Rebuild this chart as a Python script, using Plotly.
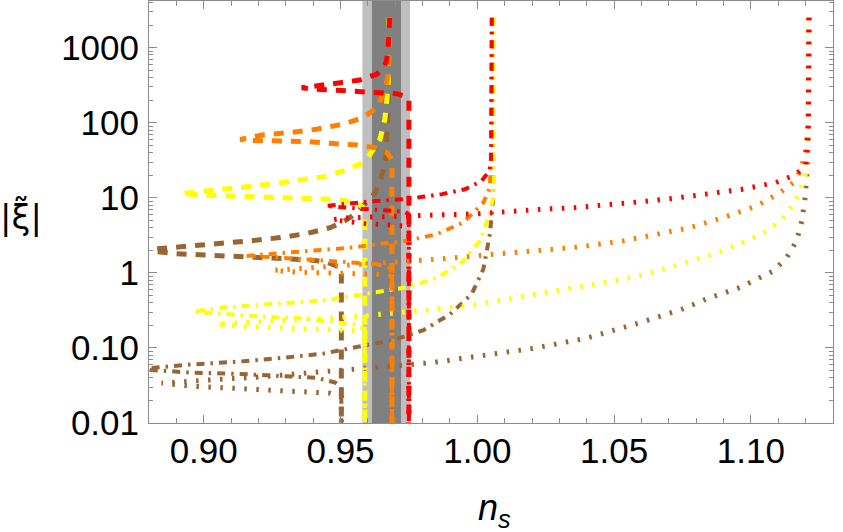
import plotly.graph_objects as go

# ---------------- data ----------------
# Dashed family (upper branch from top -> tip -> lower branch -> down to 0.01)
red_dashed_ns = [0.9680, 0.9678, 0.9674, 0.9668, 0.9655, 0.9632, 0.9600, 0.9571, 0.9500, 0.9430, 0.9390, 0.9358,
                 0.9390, 0.9430, 0.9500, 0.9571, 0.9632, 0.9705, 0.9740, 0.9750, 0.9750]
red_dashed_xi = [2500, 1500, 1000, 665, 520, 443, 400, 371, 342, 318, 303, 292,
                 283, 279, 270, 262, 257, 244, 225, 200, 0.01]

orange_dashed_ns = [0.9680, 0.9677, 0.9675, 0.9662, 0.9634, 0.9600, 0.9577, 0.9510, 0.9449, 0.9413, 0.9315, 0.9218, 0.9133,
                    0.9180, 0.9250, 0.9388, 0.9474, 0.9559, 0.9626, 0.9670, 0.9688, 0.9688]
orange_dashed_xi = [2500, 815, 443, 265, 162, 130, 115, 96, 86, 82, 74, 69, 60,
                    58, 57.5, 56, 52.8, 50.6, 46.6, 40, 32, 0.01]

yellow_dashed_ns = [0.9678, 0.9676, 0.9675, 0.9669, 0.9662, 0.9644, 0.9608, 0.9571, 0.9510, 0.9437, 0.9340, 0.9242,
                    0.9157, 0.9084, 0.8986, 0.8919,
                    0.8990, 0.9072, 0.9180, 0.9290, 0.9400, 0.9486, 0.9559, 0.9583, 0.9589, 0.9589]
yellow_dashed_xi = [2500, 600, 360, 195, 111, 60, 38, 28, 22.8, 19, 16.8, 15.2,
                    14, 13.3, 12.4, 11.4,
                    10.9, 10.6, 10.3, 10.1, 9.8, 9.5, 8.6, 7.4, 6.0, 0.01]

brown_dashed_ns = [0.9678, 0.9678, 0.9672, 0.9666, 0.9651, 0.9627, 0.9583, 0.9535, 0.9510, 0.9462, 0.9376, 0.9279,
                   0.9169, 0.9059, 0.8950, 0.8865, 0.8800, 0.8780,
                   0.8800, 0.8889, 0.8986, 0.9084, 0.9181, 0.9279, 0.9376, 0.9449, 0.9498, 0.9503, 0.9503]
brown_dashed_xi = [2500, 443, 105, 34, 19.6, 11.7, 7.8, 5.45, 4.8, 4.0, 3.34, 2.95,
                   2.67, 2.46, 2.29, 2.17, 2.07, 2.02,
                   1.98, 1.81, 1.74, 1.68, 1.63, 1.57, 1.50, 1.40, 1.18, 0.96, 0.01]

# Dot-dashed family
red_dotdash_ns = [1.0053, 1.0052, 1.0050, 1.0044, 1.0016, 0.9955, 0.9871, 0.9800, 0.9742, 0.9630, 0.9520, 0.9446,
                  0.9500, 0.9580, 0.9675, 0.9735, 0.9750, 0.9750]
red_dotdash_xi = [2500, 100, 31, 22.8, 16.8, 13, 11.2, 10.3, 9.6, 9.1, 8.4, 7.8,
                  7.5, 7.2, 6.8, 6.5, 6.0, 0.01]

orange_dotdash_ns = [1.0053, 1.0052, 1.0046, 1.0022, 0.9949, 0.9852, 0.9742, 0.9632, 0.9523, 0.9413, 0.9291, 0.9157,
                     0.9250, 0.9388, 0.9510, 0.9632, 0.9675, 0.9688, 0.9688]
orange_dotdash_xi = [2500, 60, 13.7, 8.6, 4.7, 3.27, 2.67, 2.41, 2.14, 2.0, 1.86, 1.68,
                     1.62, 1.49, 1.40, 1.31, 1.17, 1.0, 0.01]

yellow_dotdash_ns = [1.0058, 1.0058, 1.0040, 1.0010, 0.9943, 0.9852, 0.9742, 0.9632, 0.9523, 0.9437, 0.9315, 0.9194,
                     0.9072, 0.8962,
                     0.9096, 0.9218, 0.9340, 0.9437, 0.9547, 0.9589, 0.9589]
yellow_dotdash_xi = [2500, 10, 5.4, 2.67, 1.37, 0.86, 0.64, 0.55, 0.47, 0.43, 0.40, 0.375,
                     0.345, 0.305,
                     0.28, 0.26, 0.25, 0.23, 0.207, 0.18, 0.01]

brown_dotdash_ns = [1.0058, 1.0058, 1.0046, 1.0022, 0.9979, 0.9900, 0.9803, 0.9693, 0.9583, 0.9437, 0.9291, 0.9133,
                    0.8950, 0.8804, 0.8780,
                    0.8804, 0.8950, 0.9133, 0.9291, 0.9413, 0.9480, 0.9503, 0.9503]
brown_dotdash_xi = [2500, 10, 3.3, 1.12, 0.52, 0.28, 0.173, 0.127, 0.107, 0.084, 0.074, 0.066,
                    0.060, 0.054, 0.053,
                    0.051, 0.047, 0.045, 0.0425, 0.040, 0.0347, 0.030, 0.01]

# Dotted family
red_dotted_ns = [1.1212, 1.1210, 1.1204, 1.1200, 1.1163, 1.1090, 1.0968, 1.0846, 1.0724, 1.0602, 1.0480, 1.0358,
                 1.0237, 1.0115, 0.9993, 0.9870, 0.9750, 0.9620, 0.9520, 0.9470,
                 0.9520, 0.9600, 0.9680, 0.9735, 0.9750, 0.9750]
red_dotted_xi = [2500, 100, 38, 26.6, 20.4, 15.9, 13, 11.2, 9.9, 8.9, 8.0, 7.4,
                 7.05, 6.5, 6.1, 5.95, 5.8, 5.6, 5.4, 5.1,
                 4.8, 4.5, 4.35, 4.2, 3.9, 0.01]

orange_dotted_ns = [1.1212, 1.1210, 1.1198, 1.1180, 1.1155, 1.1106, 1.1021, 1.0899, 1.0777, 1.0656, 1.0534, 1.0375,
                    1.0229, 1.0070, 0.9937, 0.9852, 0.9766, 0.9650, 0.9550, 0.9450, 0.9350, 0.9254,
                    0.9350, 0.9450, 0.9550, 0.9630, 0.9688, 0.9688]
orange_dotted_xi = [2500, 100, 38, 22.8, 15.9, 11.7, 7.8, 5.45, 4.0, 3.27, 2.67, 2.22,
                    2.0, 1.72, 1.57, 1.52, 1.45, 1.36, 1.28, 1.22, 1.16, 1.08,
                    1.02, 0.99, 0.97, 0.96, 0.90, 0.01]

yellow_dotted_ns = [1.1210, 1.1208, 1.1198, 1.1180, 1.1155, 1.1119, 1.1058, 1.0985, 1.0863, 1.0741, 1.0619, 1.0497,
                    1.0351, 1.0205, 1.0070, 0.9985, 0.9900, 0.9815, 0.9742, 0.9600, 0.9450, 0.9300, 0.9150, 0.9047,
                    0.9150, 0.9300, 0.9450, 0.9550, 0.9589, 0.9589]
yellow_dotted_xi = [2500, 60, 20, 12.4, 8.2, 5.45, 3.6, 2.67, 1.77, 1.31, 0.96, 0.78,
                    0.63, 0.51, 0.42, 0.375, 0.345, 0.32, 0.296, 0.27, 0.25, 0.235, 0.22, 0.207,
                    0.192, 0.183, 0.176, 0.17, 0.16, 0.01]

brown_dotted_ns = [1.1212, 1.1210, 1.1204, 1.1198, 1.1186, 1.1167, 1.1131, 1.1082, 1.0960, 1.0838, 1.0750, 1.0600,
                   1.0400, 1.0200, 1.0058, 0.9973, 0.9839, 0.9705, 0.9547, 0.9400, 0.9200, 0.9000, 0.8846,
                   0.8950, 0.9130, 0.9300, 0.9460, 0.9503, 0.9503]
brown_dotted_xi = [2500, 60, 20, 10, 4.9, 2.67, 1.6, 1.06, 0.64, 0.45, 0.33, 0.22,
                   0.135, 0.098, 0.083, 0.074, 0.064, 0.058, 0.052, 0.046, 0.041, 0.037, 0.034,
                   0.031, 0.029, 0.027, 0.025, 0.022, 0.01]

# Observational n_s bands (2 sigma light, 1 sigma dark)
band_2sigma = [0.9580, 0.9754]
band_1sigma = [0.9615, 0.9721]

x_tick_vals = [0.90, 0.95, 1.00, 1.05, 1.10]
x_tick_text = ["0.90", "0.95", "1.00", "1.05", "1.10"]
y_tick_vals = [0.01, 0.1, 1, 10, 100, 1000]
y_tick_text = ["0.01", "0.10", "1", "10", "100", "1000"]

# ---------------- styles ----------------
colors = {"red": "#FF0000", "orange": "#FF8000", "yellow": "#FFFF00", "brown": "#996633"}
styles = {
    "dashed": dict(width=5, dash="10px,9px"),
    "dotdash": dict(width=4, dash="8px,6px,2.5px,6px"),
    "dotted": dict(width=5, dash="2.5px,9.5px"),
}

series = [
    ("brown", "dashed", brown_dashed_ns, brown_dashed_xi),
    ("yellow", "dashed", yellow_dashed_ns, yellow_dashed_xi),
    ("orange", "dashed", orange_dashed_ns, orange_dashed_xi),
    ("red", "dashed", red_dashed_ns, red_dashed_xi),
    ("brown", "dotdash", brown_dotdash_ns, brown_dotdash_xi),
    ("yellow", "dotdash", yellow_dotdash_ns, yellow_dotdash_xi),
    ("orange", "dotdash", orange_dotdash_ns, orange_dotdash_xi),
    ("red", "dotdash", red_dotdash_ns, red_dotdash_xi),
    ("brown", "dotted", brown_dotted_ns, brown_dotted_xi),
    ("yellow", "dotted", yellow_dotted_ns, yellow_dotted_xi),
    ("orange", "dotted", orange_dotted_ns, orange_dotted_xi),
    ("red", "dotted", red_dotted_ns, red_dotted_xi),
]

fig = go.Figure()
for col, sty, xs, ys in series:
    fig.add_trace(go.Scatter(x=xs, y=ys, mode="lines", showlegend=False, hoverinfo="skip",
                             line=dict(color=colors[col], **styles[sty])))

fig.add_shape(type="rect", xref="x", yref="paper", x0=band_2sigma[0], x1=band_2sigma[1], y0=0, y1=1,
              fillcolor="#BFBFBF", line_width=0, layer="below")
fig.add_shape(type="rect", xref="x", yref="paper", x0=band_1sigma[0], x1=band_1sigma[1], y0=0, y1=1,
              fillcolor="#808080", line_width=0, layer="below")

minor_y = [m * 10.0 ** k for k in range(-2, 4) for m in range(2, 10) if m * 10.0 ** k < 4200]

tick_font = dict(family="Liberation Sans, Arial, sans-serif", size=35, color="black")
frame = "#8C8C8C"

fig.update_layout(
    width=843, height=532,
    margin=dict(l=149, r=10, t=1, b=109, autoexpand=False),
    paper_bgcolor="white", plot_bgcolor="white",
    xaxis=dict(range=[0.88, 1.13], tickvals=x_tick_vals, ticktext=x_tick_text, automargin=False,
               ticks="inside", ticklen=8, tickwidth=1, tickcolor=frame,
               showline=True, linecolor=frame, linewidth=1, mirror="ticks",
               showgrid=False, zeroline=False, tickfont=tick_font, ticklabelstandoff=-3,
               minor=dict(tick0=0.88, dtick=0.01, ticks="inside", ticklen=5, tickcolor=frame, showgrid=False)),
    yaxis=dict(type="log", range=[-2, 3.622], tickvals=y_tick_vals, ticktext=y_tick_text, automargin=False,
               ticks="inside", ticklen=8, tickwidth=1, tickcolor=frame,
               showline=True, linecolor=frame, linewidth=1, mirror="ticks",
               showgrid=False, zeroline=False, tickfont=tick_font, ticklabelstandoff=2,
               minor=dict(tickvals=minor_y, ticks="inside", ticklen=4, tickcolor=frame, showgrid=False)),
)

fig.add_annotation(text="|ξ̃|", xref="paper", yref="paper", x=-0.187, y=0.49,
                   xanchor="center", yanchor="middle", showarrow=False,
                   font=dict(family="DejaVu Sans", size=34, color="black"))
fig.add_annotation(text="<i>n</i><sub><i>s</i></sub>", xref="paper", yref="paper", x=0.505, y=-0.205,
                   xanchor="center", yanchor="middle", showarrow=False,
                   font=dict(family="Liberation Sans, Arial", size=36, color="black"))

fig.write_html("out.html", config={"displayModeBar": False},
               post_script="document.body.style.margin='0';document.body.style.overflow='hidden';")
